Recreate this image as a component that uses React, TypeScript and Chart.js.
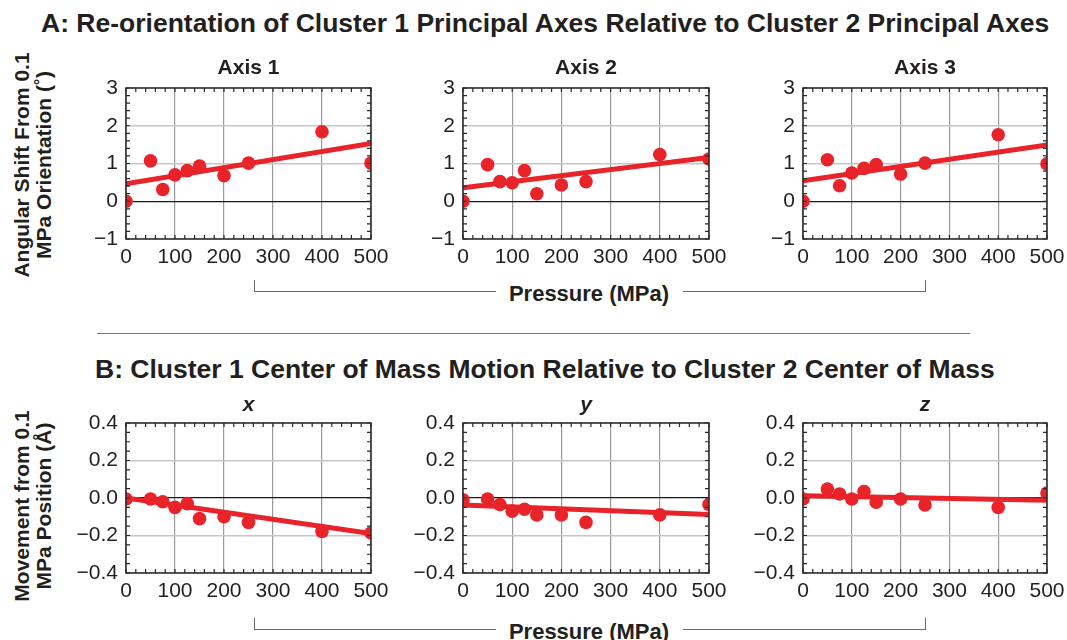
import React, { useEffect, useRef } from 'react';
import { Chart, registerables } from 'chart.js';

Chart.register(...registerables);

// ---------- data ----------
const pressures = [0, 50, 75, 100, 125, 150, 200, 250, 400, 500];
const fitEnds = [0, 500];

const axis1Shift = [0, 1.07, 0.31, 0.7, 0.81, 0.93, 0.68, 1.01, 1.84, 1.01];
const axis2Shift = [0, 0.97, 0.52, 0.49, 0.81, 0.2, 0.43, 0.52, 1.24, 1.12];
const axis3Shift = [0, 1.1, 0.41, 0.75, 0.87, 0.97, 0.72, 1.01, 1.76, 0.99];
const axis1Fit = [0.46, 1.53];
const axis2Fit = [0.36, 1.16];
const axis3Fit = [0.54, 1.49];

const xMove = [-0.005, -0.005, -0.02, -0.05, -0.03, -0.11, -0.1, -0.13, -0.178, -0.187];
const yMove = [-0.01, -0.005, -0.035, -0.07, -0.06, -0.09, -0.09, -0.13, -0.09, -0.035];
const zMove = [-0.005, 0.048, 0.021, -0.005, 0.034, -0.023, -0.005, -0.037, -0.05, 0.027];
const xFit = [0.0, -0.19];
const yFit = [-0.037, -0.088];
const zFit = [0.012, -0.012];

const panelATitles = ['Axis 1', 'Axis 2', 'Axis 3'];
const panelBTitles = ['x', 'y', 'z'];
const xTickStep = 100;
const xMinorStep = 20;

// ---------- styling ----------
const FONT = '"Liberation Sans", Arial, Helvetica, sans-serif';
const RED = '#e8232a';
const INK = '#231f20';

const PAD_L = 70;
const PAD_T = 15;
const PAD_R = 25;
const AX_H = 34;
const PAD_B = 4;

const framePlugin = {
  id: 'frameTicks',
  afterDatasetsDraw(chart: any, _args: any, opts: any) {
    const { ctx, chartArea, scales } = chart;
    const { left, right, top, bottom } = chartArea;
    const xs = scales.x;
    const ys = scales.y;
    ctx.save();
    ctx.strokeStyle = '#2a2a2a';
    ctx.lineWidth = 1.2;
    const tl = 4;
    ctx.beginPath();
    const nx = Math.round((xs.max - xs.min) / opts.xMinor);
    for (let i = 0; i <= nx; i++) {
      const px = xs.getPixelForValue(xs.min + i * opts.xMinor);
      ctx.moveTo(px, bottom);
      ctx.lineTo(px, bottom - tl);
      ctx.moveTo(px, top);
      ctx.lineTo(px, top + tl);
    }
    const ny = Math.round((ys.max - ys.min) / opts.yMinor);
    for (let i = 0; i <= ny; i++) {
      const py = ys.getPixelForValue(ys.min + i * opts.yMinor);
      ctx.moveTo(left, py);
      ctx.lineTo(left + tl, py);
      ctx.moveTo(right, py);
      ctx.lineTo(right - tl, py);
    }
    ctx.stroke();
    ctx.lineWidth = 1.5;
    ctx.strokeRect(left, top, right - left, bottom - top);
    ctx.restore();
  },
};

type PanelProps = {
  left: number;
  top: number;
  right: number;
  bottom: number;
  values: number[];
  fit: number[];
  yMin: number;
  yMax: number;
  yStep: number;
  yMinor: number;
  decimals: number;
};

function zeroPaddings(s: any) {
  s.paddingLeft = 0;
  s.paddingRight = 0;
  s.paddingTop = 0;
  s.paddingBottom = 0;
}

function Panel(p: PanelProps) {
  const ref = useRef<HTMLCanvasElement | null>(null);
  useEffect(() => {
    if (!ref.current) return;
    const chart = new Chart(ref.current, {
      type: 'scatter',
      data: {
        datasets: [
          {
            data: pressures.map((x, i) => ({ x, y: p.values[i] })),
            showLine: false,
            pointRadius: 6.8,
            pointHoverRadius: 6.8,
            backgroundColor: RED,
            borderWidth: 0,
            pointBorderWidth: 0,
            clip: 0,
            order: 0,
          } as any,
          {
            data: fitEnds.map((x, i) => ({ x, y: p.fit[i] })),
            showLine: true,
            borderColor: RED,
            borderWidth: 5,
            pointRadius: 0,
            clip: 0,
            order: 1,
          } as any,
        ],
      },
      options: {
        responsive: false,
        maintainAspectRatio: false,
        animation: false,
        events: [],
        layout: { padding: { left: 0, top: PAD_T, right: PAD_R, bottom: PAD_B }, autoPadding: false } as any,
        plugins: {
          legend: { display: false },
          tooltip: { enabled: false },
          frameTicks: { xMinor: xMinorStep, yMinor: p.yMinor },
        } as any,
        scales: {
          x: {
            type: 'linear',
            min: 0,
            max: 500,
            ticks: {
              stepSize: xTickStep,
              padding: 6,
              color: INK,
              font: { family: FONT, size: 21 },
              maxRotation: 0,
              autoSkip: false,
            },
            grid: { color: '#9a9a9a', lineWidth: 1.2, drawTicks: false },
            border: { display: false },
            afterFit(s: any) {
              s.height = AX_H;
              zeroPaddings(s);
            },
          },
          y: {
            type: 'linear',
            min: p.yMin,
            max: p.yMax,
            ticks: {
              stepSize: p.yStep,
              padding: 8,
              color: INK,
              font: { family: FONT, size: 21 },
              autoSkip: false,
              callback: (v: any) => {
                const n = Number(v);
                if (Math.abs(n) < 1e-9) return (0).toFixed(p.decimals);
                return n.toFixed(p.decimals).replace('-', '\u2212');
              },
            },
            grid: {
              color: (c: any) => (Math.abs(c.tick.value) < 1e-9 ? '#1a1a1a' : '#c6c6c6'),
              lineWidth: (c: any) => (Math.abs(c.tick.value) < 1e-9 ? 1.3 : 1.6),
              drawTicks: false,
            },
            border: { display: false },
            afterFit(s: any) {
              s.width = PAD_L;
              zeroPaddings(s);
            },
          },
        } as any,
      },
      plugins: [framePlugin as any],
    });
    return () => chart.destroy();
  }, []);
  const w = p.right - p.left + PAD_L + PAD_R;
  const h = p.bottom - p.top + PAD_T + AX_H + PAD_B;
  return (
    <canvas
      ref={ref}
      width={w}
      height={h}
      style={{ position: 'absolute', left: p.left - PAD_L, top: p.top - PAD_T, width: w, height: h }}
    />
  );
}

const cols = [
  { left: 126, right: 371 },
  { left: 463, right: 709 },
  { left: 803, right: 1047 },
];
const rowA = { top: 88, bottom: 239 };
const rowB = { top: 423, bottom: 573 };

const text = (extra: React.CSSProperties): React.CSSProperties => ({
  position: 'absolute',
  fontFamily: FONT,
  fontWeight: 700,
  color: INK,
  whiteSpace: 'nowrap',
  ...extra,
});

function Bracket({ top }: { top: number }) {
  const line = '1.5px solid #6a6a6a';
  return (
    <>
      <div style={{ position: 'absolute', left: 254, top, width: 241, height: 11, borderLeft: line, borderBottom: line }} />
      <div style={{ position: 'absolute', left: 683, top, width: 242, height: 11, borderRight: line, borderBottom: line }} />
      <div style={text({ left: 489, width: 200, top: top + 3, textAlign: 'center', fontSize: 22, lineHeight: '22px' })}>
        Pressure (MPa)
      </div>
    </>
  );
}

export default function App() {
  const aValues = [axis1Shift, axis2Shift, axis3Shift];
  const aFits = [axis1Fit, axis2Fit, axis3Fit];
  const bValues = [xMove, yMove, zMove];
  const bFits = [xFit, yFit, zFit];
  return (
    <div style={{ position: 'absolute', left: 0, top: 0, width: 1067, height: 640, overflow: 'hidden', background: '#fff' }}>
      {cols.map((c, i) => (
        <Panel
          key={'a' + i}
          left={c.left}
          right={c.right}
          top={rowA.top}
          bottom={rowA.bottom}
          values={aValues[i]}
          fit={aFits[i]}
          yMin={-1}
          yMax={3}
          yStep={1}
          yMinor={0.2}
          decimals={0}
        />
      ))}
      {cols.map((c, i) => (
        <Panel
          key={'b' + i}
          left={c.left}
          right={c.right}
          top={rowB.top}
          bottom={rowB.bottom}
          values={bValues[i]}
          fit={bFits[i]}
          yMin={-0.4}
          yMax={0.4}
          yStep={0.2}
          yMinor={0.05}
          decimals={1}
        />
      ))}

      <div style={text({ left: 41, top: 10, fontSize: 26.5, lineHeight: '26px' })}>
        A: Re-orientation of Cluster 1 Principal Axes Relative to Cluster 2 Principal Axes
      </div>
      <div style={text({ left: 95, top: 356, fontSize: 26.5, lineHeight: '26px' })}>
        B: Cluster 1 Center of Mass Motion Relative to Cluster 2 Center of Mass
      </div>

      {cols.map((c, i) => (
        <div
          key={'ta' + i}
          style={text({ left: (c.left + c.right) / 2 - 100, width: 200, top: 56, textAlign: 'center', fontSize: 21, lineHeight: '21px' })}
        >
          {panelATitles[i]}
        </div>
      ))}
      {cols.map((c, i) => (
        <div
          key={'tb' + i}
          style={text({ left: (c.left + c.right) / 2 - 100, width: 200, top: 393, textAlign: 'center', fontSize: 21, lineHeight: '21px', fontStyle: 'italic' })}
        >
          {panelBTitles[i]}
        </div>
      ))}

      <div
        style={text({
          left: 33,
          top: 165,
          transform: 'translate(-50%, -50%) rotate(-90deg)',
          textAlign: 'center',
          fontSize: 21,
          lineHeight: '22px',
        })}
      >
        Angular Shift From 0.1
        <br />
        MPa Orientation (˚)
      </div>
      <div
        style={text({
          left: 33,
          top: 506,
          transform: 'translate(-50%, -50%) rotate(-90deg)',
          textAlign: 'center',
          fontSize: 21,
          lineHeight: '22px',
        })}
      >
        Movement from 0.1
        <br />
        MPa Position (Å)
      </div>

      <Bracket top={280} />
      <div style={{ position: 'absolute', left: 97, top: 333, width: 873, height: 0, borderTop: '1.5px solid #777' }} />
      <Bracket top={618} />
    </div>
  );
}
